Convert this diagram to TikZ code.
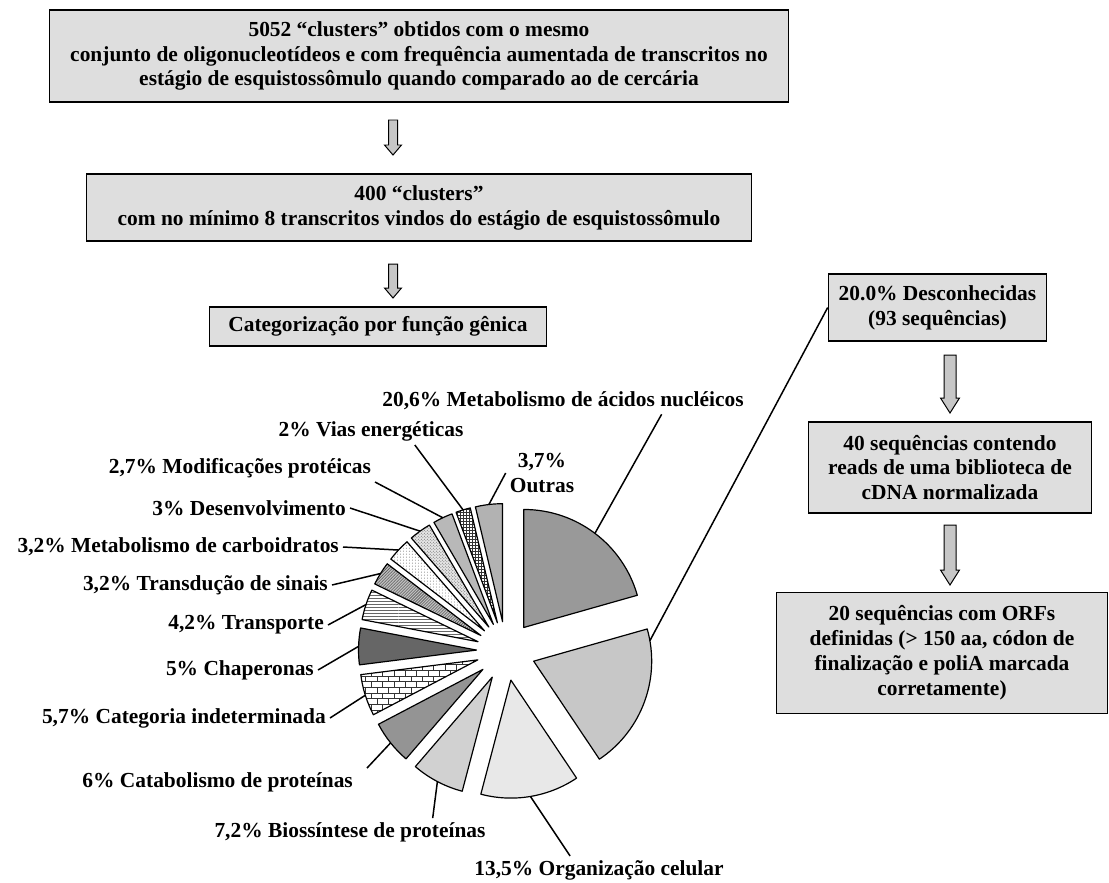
\documentclass[tikz,border=0pt]{standalone}
\usepackage{fontspec}
\setmainfont{Liberation Serif}
\usetikzlibrary{calc}
\usetikzlibrary{patterns}

\definecolor{cinzacaixa}{gray}{0.87}
\definecolor{cinzaseta}{gray}{0.78}

\newcommand{\setabloco}[5]{%
  \draw[seta] ($(#1)+(-#3,0)$) -- ($(#2)+(-#3,#5)$) -- ($(#2)+(-#4,#5)$) -- (#2)
    -- ($(#2)+(#4,#5)$) -- ($(#2)+(#3,#5)$) -- ($(#1)+(#3,0)$) -- cycle;}

\begin{document}
\begin{tikzpicture}[x=1bp,y=1bp,
  font=\fontsize{21.5}{25}\selectfont\bfseries,
  caixa/.style={draw=black,line width=1.4pt,fill=cinzacaixa,align=center,inner sep=2pt},
  seta/.style={draw=black,line width=1pt,fill=cinzaseta,line join=miter},
  rotulo/.style={inner sep=4pt,align=center},
  guia/.style={line width=1.5pt},
  fatia/.style={draw=black,line width=1.2pt,line join=round},
  metab/.style={fill=black!40},
  desc/.style={fill=black!22},
  org/.style={fill=black!9},
  bios/.style={fill=black!18},
  catab/.style={fill=black!42},
  categ/.style={pattern=bricks,pattern color=black!80},
  chap/.style={fill=black!60},
  transp/.style={pattern=horizontal lines,pattern color=black!60},
  transd/.style={preaction={fill=black!25},pattern=north east lines,pattern color=black!75},
  carb/.style={pattern=dots,pattern color=black!55},
  desenv/.style={preaction={fill=black!10},pattern=crosshatch dots,pattern color=black!60},
  modif/.style={fill=black!28},
  vias/.style={pattern=grid,pattern color=black!80},
  outras/.style={fill=black!30}]
  \useasboundingbox (0,0) rectangle (1109,-883);

  % fluxo principal
  \node[caixa,minimum width=742,minimum height=92] (b1) at (419,-56)
    {5052 “clusters” obtidos com o mesmo\\
     conjunto de oligonucleotídeos e com frequência aumentada de transcritos no\\
     estágio de esquistossômulo quando comparado ao de cercária};
  \node[caixa,minimum width=668,minimum height=67] (b2) at (419,-207.5)
    {400 “clusters”\\
     com no mínimo 8 transcritos vindos do estágio de esquistossômulo};
  \node[caixa,minimum width=338,minimum height=39] (b3) at (378,-326.5)
    {Categorização por função gênica};

  % ramo das desconhecidas
  \node[caixa,minimum width=219,minimum height=67] (d1) at (937.5,-307.5)
    {20.0\% Desconhecidas\\(93 sequências)};
  \node[caixa,minimum width=284,minimum height=91] (d2) at (950,-467.5)
    {40 sequências contendo\\reads de uma biblioteca de\\cDNA normalizada};
  \node[caixa,minimum width=332,minimum height=122] (d3) at (942,-653)
    {20 sequências com ORFs\\definidas (> 150 aa, códon de\\finalização e poliA marcada\\corretamente)};

  \coordinate (s1a) at (393,-120); \coordinate (s1b) at (393,-155);
  \coordinate (s2a) at (393,-264); \coordinate (s2b) at (393,-298);
  \coordinate (s3a) at (950,-355); \coordinate (s3b) at (950,-413);
  \coordinate (s4a) at (950,-525); \coordinate (s4b) at (950,-585);
  \setabloco{s1a}{s1b}{4.5}{8.5}{10}
  \setabloco{s2a}{s2b}{4.5}{8.5}{10}
  \setabloco{s3a}{s3b}{6}{9.5}{15}
  \setabloco{s4a}{s4b}{6}{9.5}{15}

  % pizza
  \coordinate (centro) at (506,-651);
  \foreach \ini/\fim/\f in {0/20.6/metab,20.6/40.6/desc,40.6/54.1/org,
      54.1/61.3/bios,61.3/67.3/catab,67.3/73/categ,73/78/chap,78/82.2/transp,
      82.2/85.4/transd,85.4/88.6/carb,88.6/91.6/desenv,91.6/94.3/modif,
      94.3/96.3/vias,96.3/100/outras}{
    \pgfmathsetmacro{\angA}{90-3.6*\ini}
    \pgfmathsetmacro{\angB}{90-3.6*\fim}
    \pgfmathsetmacro{\angM}{(\angA+\angB)/2}
    \coordinate (o-\f) at ($(centro)+(\angM:29.5)$);
    \draw[fatia,\f] (o-\f) -- ++(\angA:118) arc[start angle=\angA,end angle=\angB,radius=118] -- cycle;
    \coordinate (p-\f) at ($(o-\f)+(\angM:118)$);
  }
  \coordinate (p-desc2) at ($(o-desc)+(10:118)$);

  % rotulos
  \node[rotulo] (lMetab) at (563,-401) {20,6\% Metabolismo de ácidos nucléicos};
  \node[rotulo] (lVias) at (371,-431) {2\% Vias energéticas};
  \node[rotulo] (lOutras) at (542,-473) {3,7\%\\Outras};
  \node[rotulo,anchor=east] (lModif) at (375,-468) {2,7\% Modificações protéicas};
  \node[rotulo,anchor=east] (lDesenv) at (350,-508) {3\% Desenvolvimento};
  \node[rotulo,anchor=east] (lCarb) at (343,-547) {3,2\% Metabolismo de carboidratos};
  \node[rotulo,anchor=east] (lTransd) at (332,-585) {3,2\% Transdução de sinais};
  \node[rotulo,anchor=east] (lTransp) at (328,-625) {4,2\% Transporte};
  \node[rotulo,anchor=east] (lChap) at (318,-670) {5\% Chaperonas};
  \node[rotulo,anchor=east] (lCateg) at (330,-718) {5,7\% Categoria indeterminada};
  \node[rotulo,anchor=east] (lCatab) at (357,-782) {6\% Catabolismo de proteínas};
  \node[rotulo] (lBios) at (350,-832) {7,2\% Biossíntese de proteínas};
  \node[rotulo] (lOrg) at (599,-870) {13,5\% Organização celular};

  \draw[guia] ([xshift=99]lMetab.south) -- (p-metab);
  \draw[guia] ([xshift=44]lVias.south) -- (p-vias);
  \draw[guia] (lOutras.west) -- (p-outras);
  \draw[guia] (lModif.south east) -- (p-modif);
  \draw[guia] (lDesenv.east) -- (p-desenv);
  \draw[guia] (lCarb.east) -- (p-carb);
  \draw[guia] (lTransd.east) -- (p-transd);
  \draw[guia] (lTransp.east) -- (p-transp);
  \draw[guia] (lChap.east) -- (p-chap);
  \draw[guia] (lCateg.east) -- (p-categ);
  \draw[guia] ([xshift=10]lCatab.north east) -- (p-catab);
  \draw[guia] ([xshift=83]lBios.north) -- (p-bios);
  \draw[guia] ([xshift=-29]lOrg.north) -- (p-org);
  \draw[guia] (d1.west) -- (p-desc2);
\end{tikzpicture}
\end{document}
